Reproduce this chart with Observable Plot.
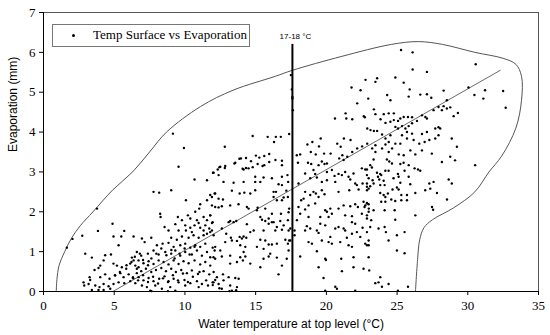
<!DOCTYPE html>
<html>
<head>
<meta charset="utf-8">
<script src="https://cdn.jsdelivr.net/npm/d3@7"></script>
<script src="https://cdn.jsdelivr.net/npm/@observablehq/plot@0.6"></script>
<style>
  html, body { margin: 0; padding: 0; background: white; }
  #wrap { position: relative; width: 550px; height: 335px; }
  #legend { position: absolute; left: 52px; top: 24px; width: 196px; height: 21px;
    border: 1px solid #777; background: white; font-family: "Liberation Serif", serif; font-size: 13px; }
  #legend .dot { position: absolute; left: 19px; top: 9px; width: 3px; height: 3px; border-radius: 50%; background: black; }
  #legend .txt { position: absolute; left: 40px; top: 2px; white-space: nowrap; }
</style>
</head>
<body>
<div id="wrap"><div id="legend"><div class="dot"></div><div class="txt">Temp Surface vs Evaporation</div></div></div>
<script>
const xTicks = [0, 5, 10, 15, 20, 25, 30, 35];
const yTicks = [0, 1, 2, 3, 4, 5, 6, 7];
const xLabel = "Water temperature at top level (°C)";
const yLabel = "Evaporation (mm)";
const vLineTemp = 17.6;
const vLineTop = 6.2;
const vLineLabel = "17-18 °C";
const regression = [[4.9, 0], [32.3, 5.55]];
const envelope = [[0.9,0],[0.95,0.3],[1.1,0.65],[1.5,1.0],[2.0,1.35],[2.6,1.65],[3.5,2.0],[4.9,2.55],[6.3,3.0],[7.5,3.5],[8.7,4.0],[11.1,4.64],[13.4,5.05],[16.4,5.4],[17.6,5.55],[21.1,5.9],[24.6,6.2],[26.5,6.27],[28.2,6.2],[30.5,6.0],[32.5,5.85],[33.4,5.7],[33.8,5.4],[33.8,4.8],[33.4,4.1],[32.4,3.4],[31.5,3.0],[30.5,2.5],[29.0,2.1],[27.5,1.8],[26.9,1.6],[26.6,1.3],[26.45,0.8],[26.3,0]];

const pointsCold = [[3.78,2.08],[4.88,1.70],[3.85,1.52],[5.71,1.52],[2.74,1.40],[2.05,1.32],[4.95,1.38],[5.5,1.38],[6.37,1.38],[5.31,1.16],[1.65,1.10],[2.95,0.95],[3.42,0.85],[4.36,0.91],[4.77,0.93],[4.25,0.78],[6.25,0.85],[6.37,0.78],[4.01,0.65],[3.89,0.59],[3.61,0.54],[4.95,0.70],[5.19,0.65],[5.54,0.61],[5.85,0.57],[6.13,0.70],[6.49,0.65],[6.72,0.61],[3.26,0.36],[3.30,0.29],[4.01,0.36],[4.36,0.43],[4.67,0.32],[5.07,0.40],[5.43,0.46],[5.66,0.36],[6.02,0.43],[6.32,0.36],[6.60,0.46],[2.83,0.23],[2.88,0.15],[3.19,0.19],[3.66,0.15],[3.96,0.11],[4.25,0.19],[4.60,0.13],[4.95,0.19],[5.31,0.23],[5.71,0.21],[6.13,0.26],[6.49,0.21],[3.42,0.04],[3.89,0.04],[4.25,0.04],[4.72,0.07]];

const pointsCool = [[9.55,3.13],[10.68,2.81],[11.56,2.79],[12.03,2.98],[7.78,2.50],[8.18,2.48],[9.03,2.54],[10.07,2.29],[11.08,2.19],[11.01,2.08],[11.79,2.42],[12.1,2.46],[11.56,2.29],[8.25,1.95],[8.28,1.87],[9.5,1.87],[10.21,1.91],[10.38,1.83],[10.73,2.0],[10.85,1.79],[10.97,1.72],[11.32,1.87],[11.56,1.79],[11.79,1.91],[11.96,1.74],[8.56,1.62],[8.84,1.53],[9.32,1.69],[9.79,1.79],[10.02,1.66],[10.38,1.6],[10.49,1.49],[10.68,1.66],[11.08,1.6],[11.32,1.53],[11.44,1.66],[11.72,1.58],[9.55,1.53],[10.07,1.53],[6.96,1.33],[7.15,1.24],[7.62,1.35],[9.03,1.35],[9.43,1.3],[9.79,1.38],[10.26,1.35],[10.61,1.41],[10.97,1.35],[11.32,1.41],[11.56,1.45],[11.79,1.49],[12.03,1.41],[8.02,1.16],[8.42,1.2],[8.84,1.22],[9.2,1.12],[9.67,1.16],[10.02,1.2],[10.38,1.1],[10.73,1.16],[11.08,1.12],[11.44,1.2],[11.96,1.1],[6.6,0.99],[6.91,0.9],[7.38,0.95],[7.78,1.03],[8.14,0.93],[8.61,0.99],[9.03,0.95],[9.32,1.03],[9.67,0.9],[10.02,0.99],[10.49,0.93],[10.85,1.03],[11.2,0.9],[11.56,0.99],[11.79,0.86],[12.1,1.03],[6.72,0.78],[7.07,0.71],[7.43,0.76],[7.78,0.69],[8.14,0.78],[8.49,0.74],[8.84,0.68],[9.2,0.78],[9.55,0.69],[9.9,0.76],[10.26,0.71],[10.68,0.78],[11.08,0.68],[11.44,0.74],[11.79,0.65],[6.6,0.57],[6.91,0.51],[7.24,0.57],[7.62,0.49],[7.95,0.54],[8.33,0.59],[8.66,0.51],[9.03,0.57],[9.36,0.49],[9.74,0.54],[10.14,0.46],[10.49,0.53],[10.92,0.44],[11.32,0.51],[11.72,0.43],[12.03,0.49],[6.72,0.36],[7.07,0.28],[7.43,0.34],[7.78,0.26],[8.18,0.32],[8.56,0.38],[8.84,0.26],[9.2,0.32],[9.55,0.23],[9.97,0.29],[10.38,0.21],[10.85,0.26],[11.2,0.19],[11.63,0.15],[11.96,0.23],[6.96,0.15],[7.31,0.11],[7.9,0.15],[8.37,0.07],[8.96,0.11],[10.02,0.15],[10.97,0.11],[7.55,0.02],[9.32,0.02]];

const pointsCoolDense = [[5.05,0.41],[5.4,0.49],[5.87,0.66],[6.22,0.74],[6.46,0.87],[6.81,0.95],[7.04,0.79],[7.39,0.66],[7.63,0.83],[7.98,0.95],[8.33,1.08],[8.69,0.91],[9.04,1.04],[9.27,0.83],[9.62,0.95],[9.98,1.08],[10.33,0.93],[10.68,1.12],[6.34,0.33],[6.69,0.28],[7.04,0.41],[7.39,0.24],[7.75,0.37],[8.1,0.2],[8.45,0.33],[8.8,0.24],[9.15,0.41],[9.51,0.28],[9.86,0.45],[10.21,0.24],[10.56,0.37],[11.03,0.49],[11.5,0.28],[11.97,0.16],[12.44,0.08],[13.15,0.01],[13.62,0.03],[8.8,0.01],[7.63,0.01]];

const pointsMild = [[16.86,3.28],[13.56,3.23],[12.5,3.13],[12.85,3.15],[15.61,3.17],[16.86,3.17],[11.98,2.98],[12.38,2.92],[14.15,3.06],[14.5,3.09],[14.97,2.88],[15.56,2.86],[16.15,2.84],[16.86,2.88],[12.73,2.75],[13.44,2.73],[14.15,2.75],[14.97,2.75],[15.33,2.75],[16.62,2.69],[12.14,2.46],[11.91,2.37],[12.38,2.33],[12.69,2.31],[13.32,2.53],[13.87,2.46],[14.2,2.48],[14.62,2.46],[14.97,2.54],[16.27,2.5],[16.44,2.5],[16.86,2.67],[17.17,2.53],[13.2,2.16],[13.79,2.19],[14.38,2.12],[14.5,2.08],[15.14,2.1],[15.09,2.04],[16.27,2.37],[16.5,2.29],[16.86,2.29],[16.98,2.36],[11.91,2.16],[12.14,2.12],[12.38,2.11],[12.61,2.14],[11.79,1.91],[15.68,2.08],[16.15,1.95],[16.79,1.95],[17.33,1.99],[15.33,1.87],[15.45,1.8],[15.68,1.77],[15.92,1.83],[16.15,1.74],[16.27,1.74],[15.92,1.7],[16.74,1.77],[16.98,1.66],[16.5,1.62],[11.91,1.72],[13.09,1.74],[13.2,1.77],[13.44,1.74],[13.63,1.77],[14.38,1.69],[14.86,1.53],[14.62,1.49],[15.56,1.53],[16.39,1.53],[16.86,1.55],[17.33,1.53],[11.91,1.53],[12.61,1.58],[12.92,1.45],[13.25,1.35],[14.15,1.38],[14.34,1.35],[13.87,1.37],[12.85,1.24],[13.32,1.28],[13.68,1.27],[14.03,1.33],[15.33,1.3],[15.68,1.28],[15.92,1.18],[16.15,1.18],[16.5,1.2],[17.1,1.3],[17.45,1.28],[12.14,1.12],[12.5,1.03],[13.91,1.16],[14.27,1.12],[15.09,1.12],[15.56,1.07],[12.02,0.86],[12.14,0.82],[12.61,0.88],[13.2,0.9],[14.15,0.99],[13.91,0.86],[14.27,0.88],[16.03,0.95],[15.92,0.88],[15.56,0.82],[16.5,0.85],[13.2,0.7],[13.68,0.74],[14.1,0.78],[14.62,0.7],[15.33,0.61],[16.86,0.65],[12.26,0.36],[12.14,0.29],[12.69,0.43],[13.09,0.36],[13.56,0.34],[13.8,0.32],[16.62,0.43],[12.02,0.23],[12.38,0.19],[12.73,0.28],[13.2,0.15],[13.68,0.11],[12.61,0.07],[13.32,0.02]];

const pointsWarm = [[17.25,2.92],[17.3,2.75],[17.28,2.37],[17.37,2.08],[17.28,1.79],[17.45,1.58],[17.75,1.53],[17.75,1.41],[17.37,1.28],[17.28,1.2],[17.33,1.03],[17.2,0.82],[19.68,3.26],[19.87,3.2],[20.04,3.21],[20.91,3.34],[21.22,3.3],[17.99,3.23],[18.7,3.23],[18.93,3.2],[19.45,3.17],[18.5,2.96],[19.09,3.05],[19.21,2.95],[20.04,3.0],[20.39,3.05],[20.58,2.9],[20.86,2.95],[21.1,2.92],[21.33,3.0],[21.57,2.88],[21.92,2.96],[22.51,3.09],[22.75,3.06],[22.87,2.92],[18.03,2.71],[18.86,2.84],[19.33,2.86],[19.68,2.75],[20.04,2.79],[20.63,2.75],[21.69,2.81],[22.04,2.71],[22.16,2.67],[22.56,2.71],[22.87,2.63],[22.28,2.56],[21.62,2.54],[20.86,2.5],[18.22,2.29],[18.39,2.33],[18.86,2.42],[19.09,2.5],[19.26,2.46],[19.45,2.37],[19.68,2.54],[19.87,2.44],[18.5,2.5],[18.03,2.12],[18.5,2.06],[18.74,2.16],[19.21,2.21],[19.92,2.04],[20.04,2.0],[20.28,2.08],[20.39,1.95],[21.22,2.16],[21.69,2.14],[22.04,2.19],[22.23,2.12],[22.63,2.25],[22.87,2.22],[22.7,2.12],[23.0,2.08],[20.86,2.08],[18.15,1.95],[18.74,1.87],[19.57,1.87],[20.16,1.87],[21.33,1.91],[21.81,1.89],[22.51,1.95],[22.87,1.91],[17.92,1.79],[18.62,1.64],[19.57,1.7],[19.92,1.66],[20.63,1.58],[20.86,1.62],[21.22,1.58],[21.81,1.74],[22.04,1.7],[22.16,1.49],[22.56,1.6],[22.87,1.49],[18.5,1.53],[18.86,1.58],[19.33,1.53],[19.45,1.47],[20.28,1.37],[21.33,1.53],[21.45,1.35],[21.81,1.45],[22.4,1.37],[22.75,1.2],[22.99,1.16],[18.74,1.24],[18.98,1.2],[19.68,1.28],[20.16,1.24],[20.98,1.24],[21.57,1.16],[21.81,1.12],[20.39,1.2],[18.15,0.88],[19.33,1.01],[19.92,0.82],[19.97,0.79],[21.05,0.82],[21.92,0.86],[22.99,0.86],[19.45,0.61],[21.92,0.61],[19.8,0.34],[21.1,0.51],[22.63,0.57],[20.63,0.12],[20.75,0.07],[22.04,0.02],[19.92,0.02]];

const pointsHot = [[23.34,3.31],[24.28,3.31],[24.45,3.26],[24.64,3.21],[25.23,3.2],[25.46,3.23],[25.82,3.17],[23.1,3.17],[23.22,3.11],[22.87,3.06],[23.58,2.98],[23.81,2.95],[24.17,3.03],[24.4,3.03],[25.06,2.95],[25.53,3.03],[26.24,3.09],[26.48,3.06],[26.64,3.03],[25.82,2.88],[22.99,2.84],[23.27,2.79],[23.65,2.88],[23.88,2.92],[23.74,2.81],[24.05,2.78],[24.75,2.84],[25.11,2.88],[25.23,2.73],[25.93,2.69],[22.87,2.71],[23.1,2.64],[23.34,2.71],[23.81,2.67],[24.12,2.67],[24.68,2.56],[24.99,2.61],[25.11,2.56],[27.28,2.71],[27.58,2.75],[27.35,2.58],[27.82,2.47],[28.53,2.31],[28.65,2.81],[28.87,2.71],[27.55,2.05],[22.87,2.54],[22.99,2.58],[23.81,2.47],[24.05,2.42],[24.17,2.37],[24.35,2.46],[23.88,2.25],[24.17,2.25],[24.59,2.31],[24.87,2.27],[25.3,2.42],[25.3,2.29],[25.7,2.42],[25.7,2.29],[26.29,2.47],[26.99,2.54],[27.47,2.12],[22.87,2.21],[22.75,2.16],[22.99,2.19],[22.99,2.0],[23.34,2.04],[24.12,2.04],[24.83,2.04],[26.29,1.91],[22.87,1.83],[23.17,1.79],[23.1,1.62],[23.69,1.58],[24.12,1.62],[24.21,1.49],[24.4,1.28],[24.87,1.8],[24.99,1.41],[25.53,1.49],[22.87,1.16],[22.99,1.28],[24.99,1.03],[25.53,0.96],[23.03,0.53],[23.81,0.36],[23.69,0.23],[23.46,0.21],[23.93,0.12],[24.4,0.19],[25.77,0.12],[25.06,0.02]];

const pointsHighWarm = [[25.28,6.06],[26.1,6.0],[26.1,5.57],[27.11,5.51],[30.56,5.7],[22.77,5.31],[23.47,5.26],[23.59,5.35],[24.88,5.37],[25.47,5.24],[25.89,5.07],[21.78,5.12],[22.42,5.05],[17.49,5.43],[17.56,5.07],[17.6,4.88],[17.6,4.84],[17.63,4.55],[22.96,4.84],[24.3,4.93],[24.53,4.8],[25.82,4.89],[26.64,4.94],[27.11,4.95],[27.42,4.86],[28.29,5.04],[30.05,5.12],[30.47,4.93],[31.1,4.84],[31.22,5.05],[32.5,5.03],[32.68,4.61],[22.18,4.72],[28.52,4.8],[28.29,4.65],[28.52,4.59],[28.76,4.62],[29.0,4.4],[29.3,4.48],[20.61,4.34],[21.41,4.34],[21.36,4.47],[21.83,4.32],[22.65,4.4],[22.72,4.37],[23.36,4.57],[23.47,4.45],[24.06,4.45],[24.41,4.47],[24.77,4.47],[22.89,4.09],[23.12,4.05],[23.36,4.03],[23.59,4.03],[23.83,4.32],[24.18,4.23],[24.53,4.26],[24.77,4.3],[25.07,4.28],[25.23,4.34],[25.47,4.38],[25.77,4.38],[26.06,4.37],[24.88,4.13],[25.07,4.09],[25.35,4.15],[25.59,4.09],[25.82,4.15],[26.06,4.22],[26.41,4.28],[26.76,4.42],[27.0,4.38],[27.11,4.34],[27.58,4.55],[27.93,4.63],[28.17,4.55],[27.7,4.09],[27.93,4.12],[28.87,3.84],[29.23,3.63],[30.52,3.17],[21.24,3.84],[21.71,3.8],[20.77,3.71],[21.01,3.63],[19.6,3.84],[19.01,3.75],[18.66,3.69],[18.9,3.5],[19.25,3.44],[19.48,3.64],[22.89,3.71],[23.47,3.67],[24.18,3.69],[24.41,3.75],[24.88,3.71],[25.23,3.71],[25.7,3.84],[26.17,3.8],[26.57,3.71],[26.95,3.75],[27.28,3.8],[27.7,3.84],[22.18,3.59],[22.53,3.64],[21.83,3.5],[21.48,3.38],[21.13,3.42],[19.84,3.46],[20.3,3.46],[17.91,3.42],[18.15,3.44],[17.37,3.95],[16.78,3.88],[16.43,3.88],[23.94,3.94],[24.18,3.84],[24.53,3.92],[25.35,3.92],[25.7,4.0],[26.06,3.96],[26.76,3.95],[27.11,4.0],[27.93,3.92],[28.05,4.09],[23.24,3.59],[23.47,3.5],[23.94,3.59],[24.41,3.5],[24.65,3.59],[25.12,3.44],[25.47,3.42],[25.94,3.54],[26.29,3.44],[26.76,3.54],[27.46,3.46],[28.17,3.25],[28.76,3.38],[29.1,3.29]];

const pointsHighCool = [[9.15,3.96],[9.93,3.6],[12.82,3.63],[14.79,3.9],[15.85,3.88],[16.3,3.75],[15.96,3.45],[15.61,3.4],[15.26,3.36],[15.02,3.41],[14.32,3.35],[14.67,3.27],[15.14,3.2],[15.49,3.15],[15.96,3.25],[16.4,3.3],[13.96,3.34],[13.5,3.21],[13.85,3.33],[14.08,3.08],[14.32,3.1],[14.79,3.12],[12.32,3.06],[12.44,3.12],[12.82,3.1]];

const points = [].concat(pointsCold, pointsCool, pointsCoolDense, pointsMild, pointsWarm, pointsHot, pointsHighWarm, pointsHighCool);

const sans = "Liberation Sans, Arial, sans-serif";
const chart = Plot.plot({
  width: 550,
  height: 335,
  marginLeft: 43,
  marginRight: 12,
  marginTop: 12,
  marginBottom: 44,
  style: { fontFamily: "Liberation Serif, serif", fontSize: "13px", color: "black", background: "white" },
  x: { domain: [0, 35] },
  y: { domain: [0, 7] },
  marks: [
    Plot.frame({ stroke: "#555", strokeWidth: 1 }),
    Plot.axisX({ ticks: xTicks, tickFormat: d3.format("d"), tickSize: 4, tickPadding: 5, label: null }),
    Plot.axisY({ ticks: yTicks, tickFormat: d3.format("d"), tickSize: 4, tickPadding: 4, label: null }),
    Plot.text([xLabel], { frameAnchor: "bottom", dy: 36, text: d => d, fontFamily: sans, fontSize: 12 }),
    Plot.text([yLabel], { frameAnchor: "left", dx: -30, rotate: -90, text: d => d, fontFamily: sans, fontSize: 12 }),
    Plot.line(envelope, { x: d => d[0], y: d => d[1], curve: "catmull-rom", stroke: "#555", strokeWidth: 1 }),
    Plot.line(regression, { x: d => d[0], y: d => d[1], stroke: "#444", strokeWidth: 0.8 }),
    Plot.ruleX([vLineTemp], { y1: 0, y2: vLineTop, stroke: "black", strokeWidth: 2 }),
    Plot.text([vLineLabel], { x: vLineTemp, y: vLineTop, text: d => d, dy: -8, dx: 3, fontFamily: sans, fontSize: 8 }),
    Plot.dot(points, { x: d => d[0], y: d => d[1], r: 1.2, fill: "black", stroke: "none" }),
    Plot.ruleX([0], { stroke: "black" }),
    Plot.ruleY([0], { stroke: "black" })
  ]
});
document.getElementById("wrap").prepend(chart);
</script>
</body>
</html>
